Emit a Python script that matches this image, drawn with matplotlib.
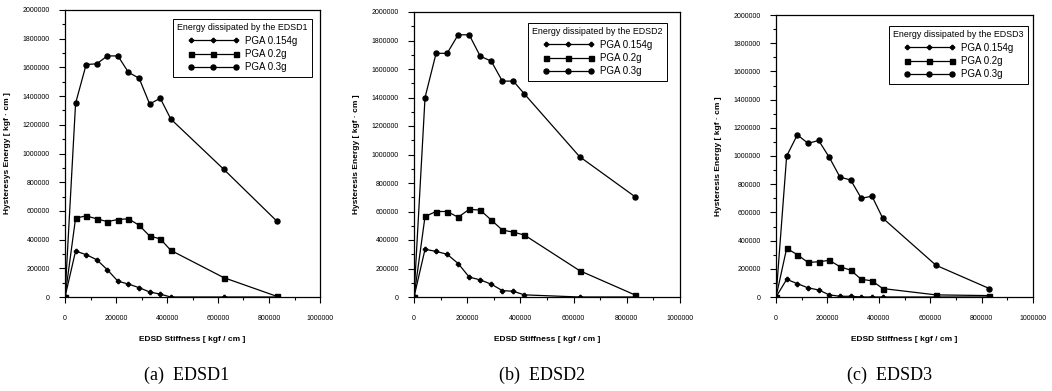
import matplotlib
matplotlib.use("Agg")
import matplotlib.pyplot as plt
from matplotlib.ticker import MultipleLocator, FuncFormatter

stiffness = [0, 41500, 83000, 124500, 166000, 207500, 249000, 290500,
             332000, 373500, 415000, 622500, 830000]

edsd1_0154 = [0, 320000, 295000, 260000, 190000, 110000, 90000, 65000, 35000, 20000, 0, 0, 0]
edsd1_02 = [0, 550000, 565000, 545000, 525000, 540000, 545000, 500000, 425000, 405000, 325000, 135000, 5000]
edsd1_03 = [0, 1350000, 1620000, 1625000, 1680000, 1680000, 1565000, 1525000, 1345000, 1385000, 1240000, 890000, 530000]

edsd2_0154 = [0, 335000, 320000, 300000, 235000, 140000, 120000, 90000, 45000, 40000, 15000, 0, 0]
edsd2_02 = [0, 565000, 600000, 600000, 560000, 615000, 610000, 540000, 470000, 455000, 435000, 185000, 15000]
edsd2_03 = [0, 1400000, 1710000, 1710000, 1840000, 1840000, 1690000, 1655000, 1515000, 1515000, 1425000, 985000, 705000]

edsd3_0154 = [0, 125000, 95000, 65000, 50000, 15000, 5000, 5000, 0, 0, 0, 0, 0]
edsd3_02 = [0, 345000, 300000, 245000, 250000, 260000, 215000, 190000, 125000, 115000, 60000, 15000, 10000]
edsd3_03 = [0, 1000000, 1150000, 1090000, 1110000, 990000, 850000, 830000, 700000, 715000, 560000, 225000, 60000]

series_labels = ["PGA 0.154g", "PGA 0.2g", "PGA 0.3g"]
panel_titles = ["Energy dissipated by the EDSD1", "Energy dissipated by the EDSD2",
                "Energy dissipated by the EDSD3"]
ylabels = ["Hysteresys Energy [ kgf · cm ]", "Hysteresis Energy [ kgf · cm ]",
           "Hysteresis Energy [ kgf · cm ]"]
xlabel = "EDSD Stiffness [ kgf / cm ]"
captions = ["(a)  EDSD1", "(b)  EDSD2", "(c)  EDSD3"]

panels = [
    (edsd1_0154, edsd1_02, edsd1_03),
    (edsd2_0154, edsd2_02, edsd2_03),
    (edsd3_0154, edsd3_02, edsd3_03),
]

W, H = 1052, 391
fig = plt.figure(figsize=(W / 100, H / 100), dpi=100)
plt.rcParams['font.family'] = ['Liberation Sans', 'DejaVu Sans']

# axes boxes in pixels: left, right, top, bottom
boxes = [(65, 320, 10, 297), (414, 680, 12, 297), (776, 1033, 15, 297)]
leg_anchor = [(0.988, 0.986), (0.97, 0.979), (1.0, 0.979)]
cap_x = [187, 542, 890]
markers = ["P", "s", "o"]
msizes = [3.0, 3.6, 3.6]

for i, (l, r, t, b) in enumerate(boxes):
    ax = fig.add_axes([l / W, 1 - b / H, (r - l) / W, (b - t) / H])
    for j, ys in enumerate(panels[i]):
        ax.plot(stiffness, ys, color="black", lw=0.9, marker=markers[j],
                ms=msizes[j], label=series_labels[j])
    ax.set_xlim(0, 1000000)
    ax.set_ylim(0, 2000000)
    ax.xaxis.set_major_locator(MultipleLocator(200000))
    ax.xaxis.set_minor_locator(MultipleLocator(100000))
    ax.yaxis.set_major_locator(MultipleLocator(200000))
    ax.yaxis.set_minor_locator(MultipleLocator(100000))
    fmt = FuncFormatter(lambda v, p: "%d" % int(round(v)))
    ax.xaxis.set_major_formatter(fmt)
    ax.yaxis.set_major_formatter(fmt)
    ax.tick_params(which="major", direction="out", length=4, width=0.8,
                   labelsize=5.0, pad=7)
    ax.tick_params(axis="x", which="major", pad=9)
    ax.tick_params(which="minor", direction="out", length=2.5, width=0.8)
    for sp in ax.spines.values():
        sp.set_linewidth(0.9)
    ax.set_xlabel(xlabel, fontsize=6, fontweight="bold", labelpad=10)
    ax.set_ylabel(ylabels[i], fontsize=6, fontweight="bold", labelpad=8)
    leg = ax.legend(title=panel_titles[i], loc="upper right",
                    bbox_to_anchor=leg_anchor[i], fontsize=7,
                    title_fontsize=6.4, numpoints=3, handlelength=5.2,
                    frameon=True, fancybox=False, edgecolor="black",
                    framealpha=1, borderpad=0.45, labelspacing=0.35,
                    handletextpad=0.6)
    leg.get_frame().set_linewidth(0.7)
    fig.text(cap_x[i] / W, 1 - 375 / H, captions[i], ha="center", va="center",
             fontsize=13, family="Liberation Serif")

fig.savefig("out.png", dpi=100)
